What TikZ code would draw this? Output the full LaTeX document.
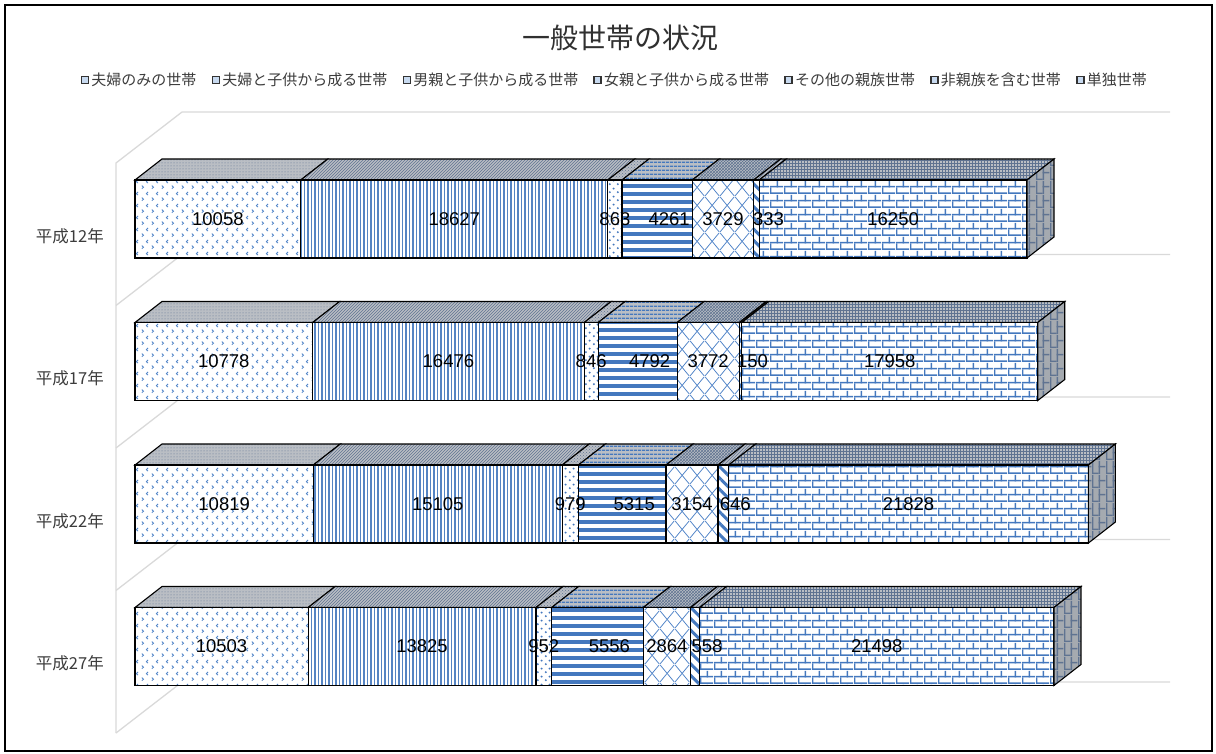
\documentclass[tikz,border=0pt]{standalone}
\usepackage{fontspec}
\setmainfont{Liberation Sans}
\newfontfamily\jpfont{Noto Sans CJK JP}
\usetikzlibrary{patterns,patterns.meta,positioning}
\pgfdeclarelayer{fg}
\pgfsetlayers{main,fg}

\definecolor{barblue}{RGB}{68,120,190}
\definecolor{chevblue}{RGB}{80,132,200}
\definecolor{vblue}{RGB}{85,132,195}
\definecolor{topgray}{RGB}{186,190,196}
\definecolor{topblue}{RGB}{95,115,145}
\definecolor{endgray}{RGB}{165,170,176}
\definecolor{wallgray}{RGB}{217,217,217}
\definecolor{txtgray}{RGB}{60,60,60}
\definecolor{legfill}{RGB}{200,218,240}

\newcommand{\barscale}{0.016482}

% custom fills of the series
\tikzdeclarepattern{name=chevrons, type=uncolored,
  bottom left={(0pt,0pt)}, top right={(10pt,12pt)}, tile size={(10pt,12pt)},
  code={\tikzset{x=1pt,y=1pt}
    \draw[line width=.9pt] (2,1.3) -- (3.8,3) -- (2,4.7);
    \draw[line width=.9pt] (8.8,7.3) -- (7,9) -- (8.8,10.7);}}
\tikzdeclarepattern{name=bigdots, type=uncolored,
  bottom left={(0pt,0pt)}, top right={(8pt,8pt)}, tile size={(8pt,8pt)},
  code={\tikzset{x=1pt,y=1pt}
    \fill (2,2) circle (1.2); \fill (6,6) circle (1.2);}}
\tikzdeclarepattern{name=trellis, type=uncolored,
  bottom left={(0pt,0pt)}, top right={(15pt,18pt)}, tile size={(15pt,18pt)},
  code={\tikzset{x=1pt,y=1pt}
    \draw[line width=.8pt] (0,0) -- (15,18); \draw[line width=.8pt] (15,0) -- (0,18);}}
\tikzdeclarepattern{name=hbricks, type=uncolored,
  bottom left={(0pt,0pt)}, top right={(14pt,14pt)}, tile size={(14pt,14pt)},
  code={\tikzset{x=1pt,y=1pt}
    \fill (0,0) rectangle (14,1.6); \fill (0,7) rectangle (14,8.6);
    \fill (0,0) rectangle (1.6,7); \fill (7,7) rectangle (8.6,14);}}
\tikzdeclarepattern{name=vbricks, type=uncolored,
  bottom left={(0pt,0pt)}, top right={(14pt,14pt)}, tile size={(14pt,14pt)},
  code={\tikzset{x=1pt,y=1pt}
    \fill (0,0) rectangle (1.5,14); \fill (7,0) rectangle (8.5,14);
    \fill (0,0) rectangle (7,1.5); \fill (7,7) rectangle (14,8.5);}}

\tikzset{
FRAME/.style={draw=black, line width=2.5pt},
WALL/.style={draw=wallgray, line width=1.3pt},
FACE/.style={draw=black, line width=1.1pt, line join=miter, preaction={fill=white}},
FRONT1/.style={FACE, pattern=chevrons, pattern color=chevblue},
FRONT2/.style={FACE, pattern={Lines[angle=90,distance=3.5pt,line width=1.1pt]}, pattern color=vblue},
FRONT3/.style={FACE, pattern=bigdots, pattern color=barblue},
FRONT4/.style={FACE, pattern={Lines[distance=8pt,line width=4pt]}, pattern color=barblue},
FRONT5/.style={FACE, pattern=trellis, pattern color=chevblue},
FRONT6/.style={FACE, pattern={Lines[angle=-45,distance=8pt,line width=3pt]}, pattern color=barblue},
FRONT7/.style={FACE, pattern=hbricks, pattern color=barblue},
TOPFACE/.style={draw=black, line width=1.1pt, line join=miter, preaction={fill=topgray}, pattern color=topblue},
TOP1/.style={TOPFACE, pattern=dots},
TOP2/.style={TOPFACE, pattern=north east lines},
TOP3/.style={TOPFACE, pattern=crosshatch dots},
TOP4/.style={TOPFACE, pattern={Lines[distance=4pt,line width=1.5pt]}, pattern color=barblue},
TOP5/.style={TOPFACE, pattern=crosshatch},
TOP6/.style={TOPFACE, pattern=north east lines},
TOP7/.style={TOPFACE, pattern=grid},
ENDFACE/.style={draw=black, line width=1.1pt, line join=miter, preaction={fill=endgray}, pattern=vbricks, pattern color=topblue},
VAL/.style={font=\fontsize{18.5}{20}\selectfont, inner sep=0pt},
CAT/.style={font=\jpfont\fontsize{16.5}{18}\selectfont, text=txtgray, anchor=east, inner sep=0pt},
TITLE/.style={font=\jpfont\fontsize{28}{32}\selectfont, text=txtgray!80!black},
LEGBOX/.style={draw=black!80, line width=1.5pt, fill=legfill, minimum size=7pt, inner sep=0pt},
LEGTXT/.style={font=\jpfont\fontsize{15}{18}\selectfont, text=txtgray, inner sep=0pt},
}

\begin{document}
\begin{tikzpicture}[x=1pt,y=-1pt]
\useasboundingbox (0,0) rectangle (1216,754);
\path[FRAME] (5,5) rectangle (1212,751);
\node[TITLE] (title) at (620,38) {一般世帯の状況};

% legend
\foreach \t [count=\i] in {夫婦のみの世帯,夫婦と子供から成る世帯,男親と子供から成る世帯,女親と子供から成る世帯,その他の親族世帯,非親族を含む世帯,単独世帯}{
  \ifnum\i=1
    \node[LEGBOX] (m1) at (85,80) {};
  \else
    \pgfmathtruncatemacro\prev{\i-1}
    \node[LEGBOX, right=15pt of t\prev] (m\i) {};
  \fi
  \node[LEGTXT, right=2pt of m\i] (t\i) {\t};
}

% walls and gridlines
\path[WALL] (116,733) -- (116,163) -- (182,112) -- (1170,112);
\foreach \g in {305.5,448,590.5,733}
  \path[WALL] (116,\g) -- ++(66,-51) -- (1170,\g-51);

% bars
\foreach \yr/\yt/\vals [count=\b] in {平成12年/180/{10058,18627,863,4261,3729,333,16250},
    平成17年/322.5/{10778,16476,846,4792,3772,150,17958},
    平成22年/465/{10819,15105,979,5315,3154,646,21828},
    平成27年/607.5/{10503,13825,952,5556,2864,558,21498}}{
  \gdef\cum{0}
  \foreach \v [count=\i] in \vals {
    \xdef\xa{\fpeval{135+\cum*\barscale}}
    \xdef\cum{\fpeval{\cum+\v}}
    \xdef\xb{\fpeval{135+\cum*\barscale}}
    \path[TOP\i] (\xa,\yt) -- ++(27,-21) -- (\xb+27,\yt-21) -- (\xb,\yt) -- cycle;
    \path[FRONT\i] (\xa,\yt) rectangle (\xb,\yt+78);
    \pgfmathsetmacro\sh{ifthenelse(\i==4||\i==6,12,0)}
    \begin{pgfonlayer}{fg}
      \node[VAL] (v\b-\i) at (\xa/2+\xb/2+\sh,\yt+39) {\v};
    \end{pgfonlayer}
  }
  \path[ENDFACE] (\xb,\yt) -- ++(27,-21) -- ++(0,78) -- (\xb,\yt+78) -- cycle;
  \node[CAT] (c\b) at (104,\yt+56) {\yr};
}
\end{tikzpicture}
\end{document}
